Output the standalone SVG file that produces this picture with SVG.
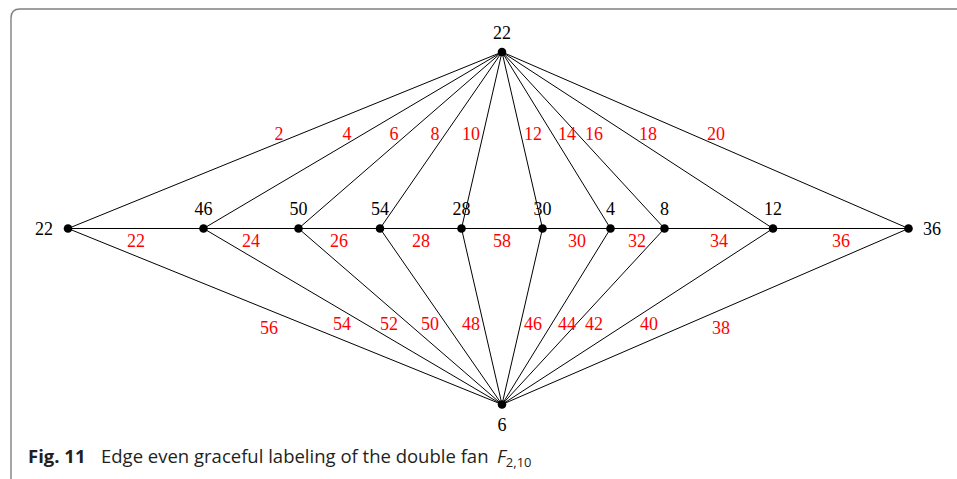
<svg xmlns="http://www.w3.org/2000/svg" width="957" height="479" viewBox="0 0 957 479">
  <style>
    .frame { fill: none; stroke: #808080; stroke-width: 1.4; }
    .edge { stroke: #000; stroke-width: 1; fill: none; }
    .dot { fill: #000; }
    .vl { font-family: "Liberation Serif", "DejaVu Serif", serif; font-size: 18px; fill: #000; text-anchor: middle; }
    .el { font-family: "Liberation Serif", "DejaVu Serif", serif; font-size: 18px; fill: #ff0000; text-anchor: middle; }
    .cap { font-family: "Open Sans", "Noto Sans", sans-serif; font-size: 18.5px; fill: #231f20; }
  </style>

  <!-- figure frame -->
  <path class="frame" d="M11,479 V18 Q11,9 20,9 H957"/>

  <!-- connectors: fan edges from the top hub, the path, and fan edges to the bottom hub -->
  <g id="edges">
    <g id="top-fan">
      <line class="edge" x1="502" y1="52" x2="68" y2="228.5"/>
      <line class="edge" x1="502" y1="52" x2="203.5" y2="228.5"/>
      <line class="edge" x1="502" y1="52" x2="298.5" y2="228.5"/>
      <line class="edge" x1="502" y1="52" x2="380" y2="228.5"/>
      <line class="edge" x1="502" y1="52" x2="461.5" y2="228.5"/>
      <line class="edge" x1="502" y1="52" x2="542.5" y2="228.5"/>
      <line class="edge" x1="502" y1="52" x2="610.5" y2="228.5"/>
      <line class="edge" x1="502" y1="52" x2="664.5" y2="228.5"/>
      <line class="edge" x1="502" y1="52" x2="773" y2="228.5"/>
      <line class="edge" x1="502" y1="52" x2="908.5" y2="228.5"/>
    </g>
    <g id="path">
      <line class="edge" x1="68" y1="228.5" x2="908.5" y2="228.5"/>
    </g>
    <g id="bottom-fan">
      <line class="edge" x1="502" y1="404.5" x2="68" y2="228.5"/>
      <line class="edge" x1="502" y1="404.5" x2="203.5" y2="228.5"/>
      <line class="edge" x1="502" y1="404.5" x2="298.5" y2="228.5"/>
      <line class="edge" x1="502" y1="404.5" x2="380" y2="228.5"/>
      <line class="edge" x1="502" y1="404.5" x2="461.5" y2="228.5"/>
      <line class="edge" x1="502" y1="404.5" x2="542.5" y2="228.5"/>
      <line class="edge" x1="502" y1="404.5" x2="610.5" y2="228.5"/>
      <line class="edge" x1="502" y1="404.5" x2="664.5" y2="228.5"/>
      <line class="edge" x1="502" y1="404.5" x2="773" y2="228.5"/>
      <line class="edge" x1="502" y1="404.5" x2="908.5" y2="228.5"/>
    </g>
  </g>

  <!-- edge labels -->
  <g id="edge-labels">
    <text class="el" x="279" y="140">2</text>
    <text class="el" x="347" y="140">4</text>
    <text class="el" x="394" y="140">6</text>
    <text class="el" x="435" y="140">8</text>
    <text class="el" x="471" y="140">10</text>
    <text class="el" x="533" y="140">12</text>
    <text class="el" x="567" y="140">14</text>
    <text class="el" x="594" y="140">16</text>
    <text class="el" x="648" y="140">18</text>
    <text class="el" x="716" y="140">20</text>

    <text class="el" x="136" y="246.5">22</text>
    <text class="el" x="251" y="246.5">24</text>
    <text class="el" x="339" y="246.5">26</text>
    <text class="el" x="421" y="246.5">28</text>
    <text class="el" x="502" y="246.5">58</text>
    <text class="el" x="577" y="246.5">30</text>
    <text class="el" x="637" y="246.5">32</text>
    <text class="el" x="719" y="246.5">34</text>
    <text class="el" x="841" y="246.5">36</text>

    <text class="el" x="269" y="334">56</text>
    <text class="el" x="342" y="330">54</text>
    <text class="el" x="389" y="330">52</text>
    <text class="el" x="430" y="330">50</text>
    <text class="el" x="471" y="330">48</text>
    <text class="el" x="533" y="330">46</text>
    <text class="el" x="567" y="330">44</text>
    <text class="el" x="594" y="330">42</text>
    <text class="el" x="649" y="330">40</text>
    <text class="el" x="721" y="334">38</text>
  </g>

  <!-- vertices -->
  <g id="v-top"><circle class="dot" cx="502" cy="52" r="4.3"/><text class="vl" x="502" y="39">22</text></g>
  <g id="v-bottom"><circle class="dot" cx="502" cy="404.5" r="4.3"/><text class="vl" x="502" y="431">6</text></g>
  <g id="v1"><circle class="dot" cx="68" cy="228.5" r="4.3"/><text class="vl" x="44" y="235">22</text></g>
  <g id="v2"><circle class="dot" cx="203.5" cy="228.5" r="4.3"/><text class="vl" x="203.5" y="215">46</text></g>
  <g id="v3"><circle class="dot" cx="298.5" cy="228.5" r="4.3"/><text class="vl" x="298.5" y="215">50</text></g>
  <g id="v4"><circle class="dot" cx="380" cy="228.5" r="4.3"/><text class="vl" x="380" y="215">54</text></g>
  <g id="v5"><circle class="dot" cx="461.5" cy="228.5" r="4.3"/><text class="vl" x="461.5" y="215">28</text></g>
  <g id="v6"><circle class="dot" cx="542.5" cy="228.5" r="4.3"/><text class="vl" x="542.5" y="215">30</text></g>
  <g id="v7"><circle class="dot" cx="610.5" cy="228.5" r="4.3"/><text class="vl" x="610.5" y="215">4</text></g>
  <g id="v8"><circle class="dot" cx="664.5" cy="228.5" r="4.3"/><text class="vl" x="664.5" y="215">8</text></g>
  <g id="v9"><circle class="dot" cx="773" cy="228.5" r="4.3"/><text class="vl" x="773" y="215">12</text></g>
  <g id="v10"><circle class="dot" cx="908.5" cy="228.5" r="4.3"/><text class="vl" x="932" y="235">36</text></g>

  <!-- caption -->
  <text class="cap" x="28" y="463"><tspan font-weight="bold">Fig. 11</tspan><tspan x="101">Edge even graceful labeling of the double fan</tspan><tspan x="497" font-style="italic">F</tspan><tspan font-size="13" dy="4">2,10</tspan></text>
</svg>
